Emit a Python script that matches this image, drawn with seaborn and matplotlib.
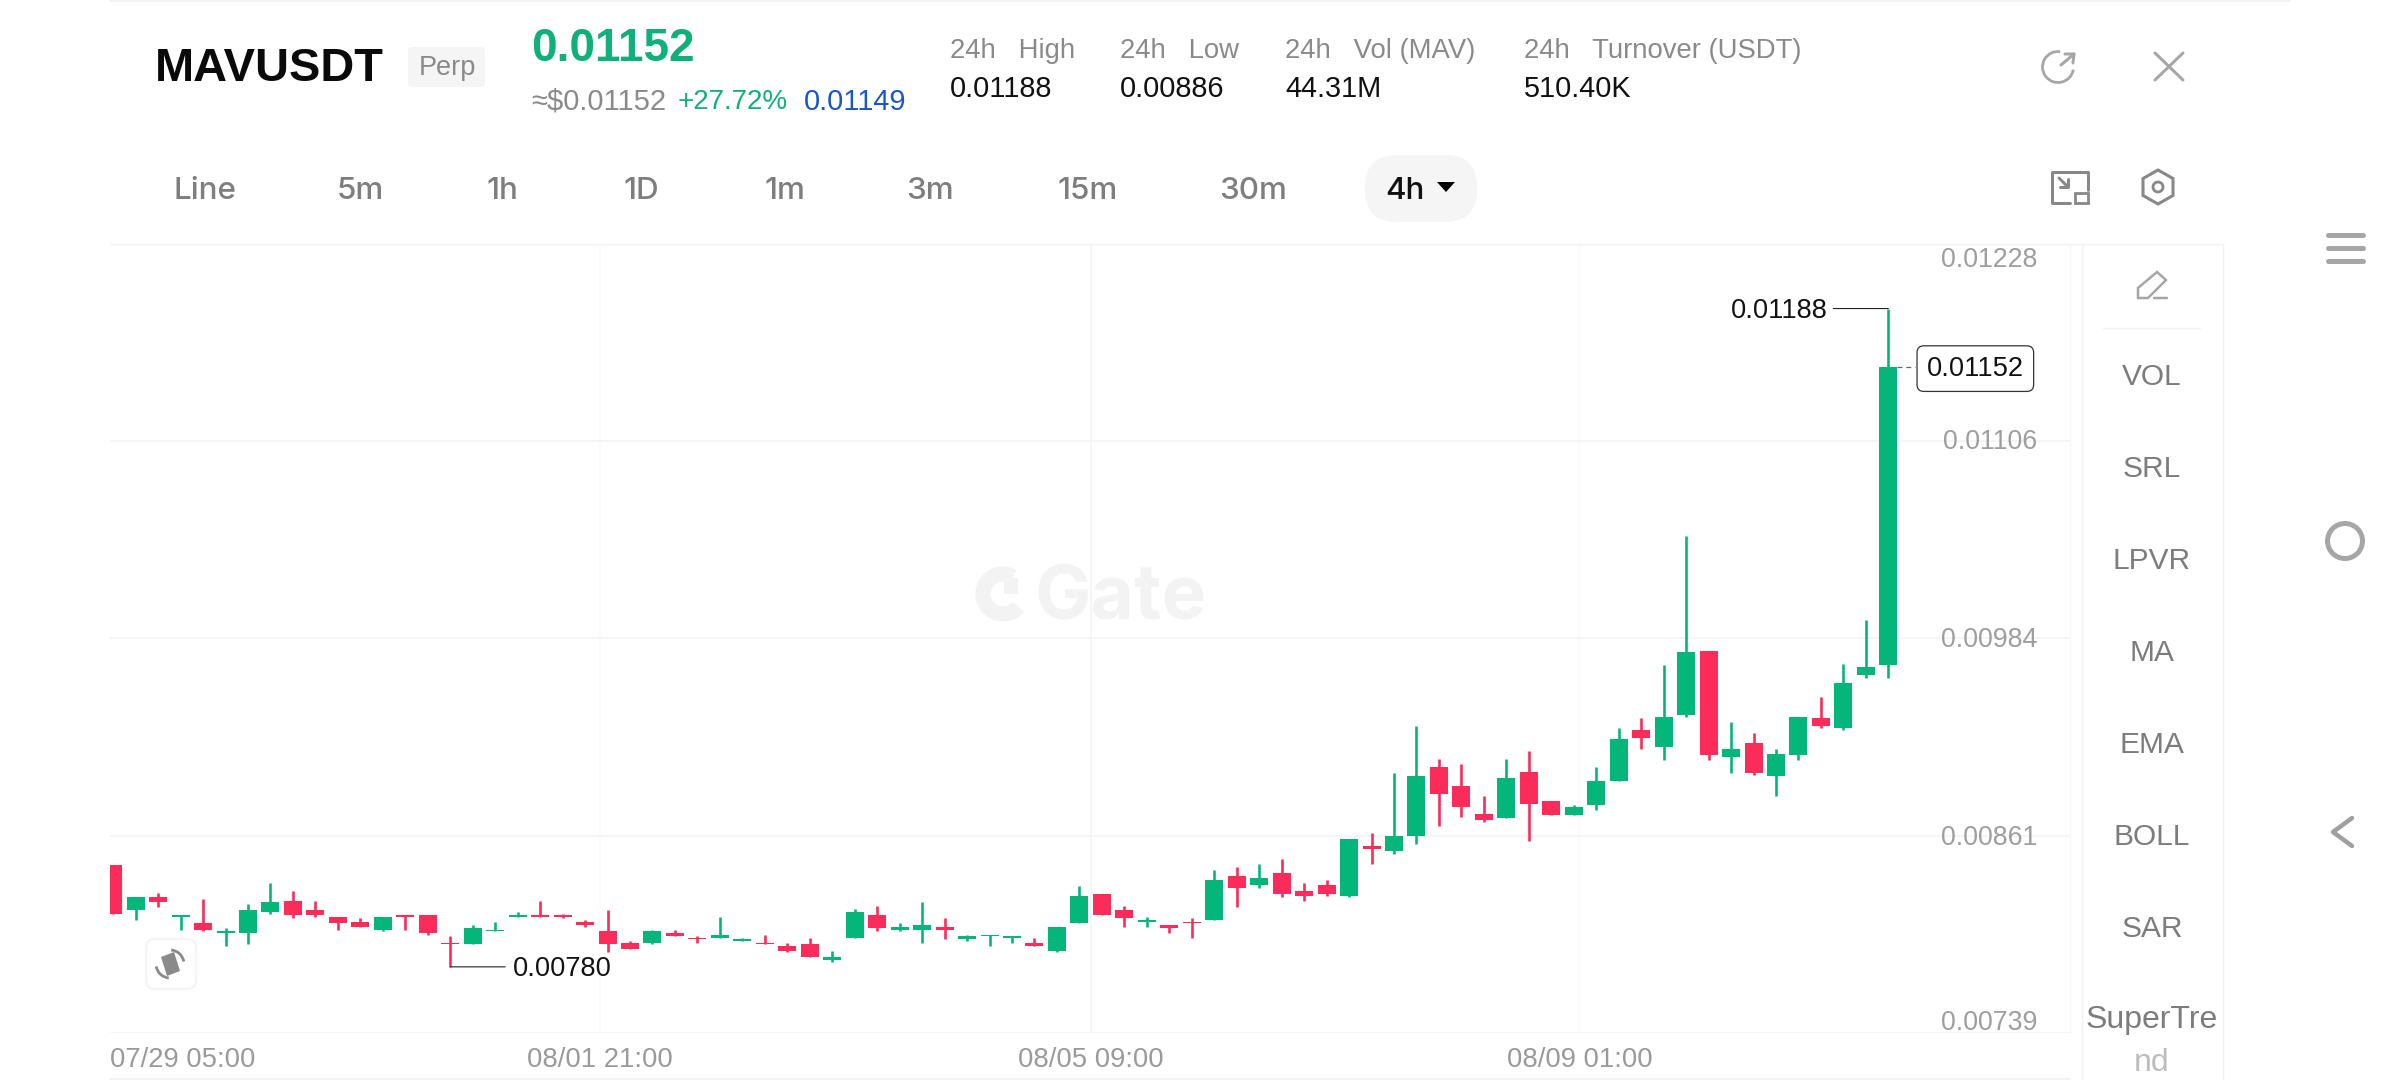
import numpy as np
import pandas as pd
import seaborn as sns
import matplotlib.pyplot as plt
from matplotlib.patches import Arc, Circle, FancyBboxPatch, Polygon, Rectangle

# candle data, 4h candles, oldest first
opens = [
    0.00843, 0.00815, 0.00823, 0.00811, 0.00807, 0.00801, 0.00801, 0.00814, 0.00821, 0.00815,
    0.00811, 0.00808, 0.00803, 0.00812, 0.00812, 0.00795, 0.00794, 0.00802, 0.00811, 0.00812,
    0.00812, 0.00808, 0.00802, 0.00795, 0.00795, 0.00801, 0.00798, 0.00798, 0.00796, 0.00795,
    0.00793, 0.00794, 0.00784, 0.00798, 0.00812, 0.00803, 0.00803, 0.00805, 0.00797, 0.00799,
    0.00798, 0.00795, 0.00790, 0.00807, 0.00825, 0.00815, 0.00808, 0.00806, 0.00808, 0.00809,
    0.00836, 0.00831, 0.00838, 0.00827, 0.00831, 0.00824, 0.00855, 0.00852, 0.00861, 0.00904,
    0.00892, 0.00875, 0.00872, 0.00901, 0.00883, 0.00874, 0.00880, 0.00895, 0.00927, 0.00916,
    0.00936, 0.00976, 0.00910, 0.00919, 0.00898, 0.00911, 0.00934, 0.00928, 0.00961, 0.00967,
]
highs = [
    0.00843, 0.00823, 0.00826, 0.00812, 0.00822, 0.00804, 0.00819, 0.00832, 0.00827, 0.00821,
    0.00811, 0.00810, 0.00811, 0.00812, 0.00812, 0.00799, 0.00806, 0.00808, 0.00814, 0.00821,
    0.00813, 0.00809, 0.00815, 0.00796, 0.00803, 0.00803, 0.00799, 0.00811, 0.00798, 0.00800,
    0.00795, 0.00798, 0.00790, 0.00816, 0.00818, 0.00807, 0.00820, 0.00810, 0.00800, 0.00800,
    0.00799, 0.00798, 0.00805, 0.00830, 0.00825, 0.00818, 0.00811, 0.00806, 0.00810, 0.00840,
    0.00842, 0.00844, 0.00847, 0.00832, 0.00834, 0.00859, 0.00863, 0.00900, 0.00929, 0.00909,
    0.00906, 0.00886, 0.00909, 0.00914, 0.00883, 0.00880, 0.00904, 0.00928, 0.00934, 0.00967,
    0.01047, 0.00976, 0.00932, 0.00925, 0.00915, 0.00935, 0.00947, 0.00968, 0.00995, 0.01188,
]
lows = [
    0.00813, 0.00809, 0.00817, 0.00803, 0.00802, 0.00793, 0.00794, 0.00813, 0.00810, 0.00811,
    0.00803, 0.00805, 0.00802, 0.00803, 0.00800, 0.00780, 0.00794, 0.00802, 0.00811, 0.00811,
    0.00810, 0.00805, 0.00789, 0.00791, 0.00794, 0.00799, 0.00795, 0.00798, 0.00796, 0.00794,
    0.00789, 0.00786, 0.00783, 0.00798, 0.00802, 0.00802, 0.00795, 0.00797, 0.00796, 0.00793,
    0.00795, 0.00793, 0.00789, 0.00807, 0.00812, 0.00805, 0.00805, 0.00801, 0.00798, 0.00809,
    0.00817, 0.00829, 0.00823, 0.00821, 0.00824, 0.00823, 0.00844, 0.00850, 0.00856, 0.00867,
    0.00873, 0.00870, 0.00872, 0.00858, 0.00874, 0.00874, 0.00877, 0.00895, 0.00915, 0.00908,
    0.00935, 0.00908, 0.00900, 0.00899, 0.00886, 0.00908, 0.00928, 0.00927, 0.00959, 0.00959,
]
closes = [
    0.00813, 0.00823, 0.00820, 0.00812, 0.00803, 0.00802, 0.00815, 0.00820, 0.00812, 0.00812,
    0.00807, 0.00805, 0.00811, 0.00811, 0.00801, 0.00794, 0.00804, 0.00803, 0.00812, 0.00811,
    0.00811, 0.00806, 0.00794, 0.00791, 0.00802, 0.00799, 0.00797, 0.00800, 0.00797, 0.00794,
    0.00790, 0.00786, 0.00786, 0.00814, 0.00804, 0.00805, 0.00806, 0.00803, 0.00799, 0.00800,
    0.00799, 0.00793, 0.00805, 0.00824, 0.00812, 0.00810, 0.00809, 0.00804, 0.00807, 0.00834,
    0.00829, 0.00835, 0.00825, 0.00824, 0.00825, 0.00859, 0.00853, 0.00861, 0.00898, 0.00887,
    0.00879, 0.00871, 0.00897, 0.00881, 0.00874, 0.00879, 0.00895, 0.00921, 0.00922, 0.00935,
    0.00975, 0.00911, 0.00915, 0.00900, 0.00912, 0.00935, 0.00929, 0.00956, 0.00966, 0.01152,
]

y_ticks = [0.01228, 0.01106, 0.00984, 0.00861, 0.00739]
y_labels = ["0.01228", "0.01106", "0.00984", "0.00861", "0.00739"]
x_labels = ["07/29 05:00", "08/01 21:00", "08/05 09:00", "08/09 01:00"]
tabs = ["Line", "5m", "1h", "1D", "1m", "3m", "15m", "30m", "4h"]
indicators = ["VOL", "SRL", "LPVR", "MA", "EMA", "BOLL", "SAR", "SuperTre"]
stat_names = ["24h   High", "24h   Low", "24h   Vol (MAV)", "24h   Turnover (USDT)"]
stat_values = ["0.01188", "0.00886", "44.31M", "510.40K"]

GREEN = "#05B67A"
RED = "#FC2C5A"
GREY = "#8A8A8A"
LIGHT = "#F3F3F3"

sns.set_theme(style="white")
plt.rcParams["font.family"] = ["Liberation Sans", "DejaVu Sans"]

W, H = 2400, 1080
fig = plt.figure(figsize=(W / 100, H / 100), dpi=100, facecolor="white")

# page furniture, drawn in pixel coordinates under the chart
ui = fig.add_axes([0, 0, 1, 1], zorder=0)
ui.set_xlim(0, W)
ui.set_ylim(H, 0)
ui.axis("off")


def txt(x, y, s, size, color, ha="left", weight="normal", family=None):
    kw = {"family": family} if family else {}
    # matplotlib centres on the line box, digits sit about 3px high
    ui.text(x, y + 3, s, fontsize=size, color=color, ha=ha, va="center", weight=weight, **kw)


def stroke(xs, ys, color="#A6A6A6", px=2.5, cap="round"):
    ui.plot(xs, ys, color=color, lw=px / 1.39, solid_capstyle=cap, solid_joinstyle="round")


# frame lines
stroke([110, 2290], [1, 1], LIGHT, 2)
stroke([110, 2223], [244, 244], LIGHT, 1.5)
stroke([110, 2070], [1079, 1079], LIGHT, 2)
stroke([2082, 2082], [244, 1080], LIGHT, 1.5)
stroke([2223, 2223], [244, 1080], LIGHT, 1.5)
stroke([2070, 2070], [244, 1033], "#F8F8F8", 1.5)
stroke([2103, 2200], [328, 328], LIGHT, 1.5)

# header
txt(155, 66, "MAVUSDT", 33.8, "#0A0A0A", weight="bold")
ui.add_patch(FancyBboxPatch((408, 47), 77, 40, boxstyle="round,pad=0,rounding_size=4", fc="#F5F5F5", ec="none"))
txt(447, 65, "Perp", 19.5, GREY, ha="center")
txt(531, 46, "0.01152", 33, "#10B07A", weight="bold")
txt(531, 99, "≈$0.01152", 21, GREY)
txt(678, 99, "+27.72%", 20, "#10B07A")
txt(804, 99, "0.01149", 20.8, "#1A56C8")
for x, name, val in zip([950, 1120, 1285, 1524], stat_names, stat_values):
    txt(x, 48, name, 19.8, GREY)
    txt(x, 86, val, 20.8, "#111111")

# header icons
ui.add_patch(Arc((2058, 67), 31, 31, theta1=10, theta2=278, color="#A6A6A6", lw=2.8 / 1.39))
stroke([2061, 2074], [65, 54], px=3)
stroke([2065, 2074, 2073], [54, 54, 63], px=3)
stroke([2155, 2183], [53, 80], px=3)
stroke([2155, 2183], [80, 53], px=3)

# interval tabs
ui.add_patch(FancyBboxPatch((1365, 155), 112, 67, boxstyle="round,pad=0,rounding_size=32", fc="#F5F5F5", ec="none"))
for x, tab in zip([205, 360, 502, 641, 785, 930, 1088, 1253, 1405], tabs):
    is_active = tab == "4h"
    txt(x, 188, tab, 22.6, "#111111" if is_active else "#7E7E7E", ha="center", weight=500, family="Inter")
ui.add_patch(Polygon([[1437, 182], [1455, 182], [1446, 192]], fc="black", ec="none"))

# layout and settings icons
stroke([2070, 2052, 2052, 2070], [203, 203, 172, 172], "#888888", 3)
stroke([2070, 2088, 2088], [172, 172, 190], "#888888", 3)
ui.add_patch(Rectangle((2075, 193), 13, 10, fc="none", ec="#888888", lw=2))
stroke([2059, 2068], [178, 187], "#888888", 3)
stroke([2060, 2068, 2068], [187, 187, 179], "#888888", 3)
ui.add_patch(Polygon([[2158, 170], [2173, 178.5], [2173, 195.5], [2158, 204], [2143, 195.5], [2143, 178.5]],
                     fc="none", ec="#888888", lw=2.2))
ui.add_patch(Circle((2158, 187), 5, fc="none", ec="#888888", lw=2))

# right-hand panel
ui.add_patch(Polygon([[2138, 288], [2157, 272], [2166, 280], [2148, 298], [2138, 298]],
                     fc="none", ec="#A6A6A6", lw=1.8))
stroke([2154, 2167], [298, 298])
for y, name in zip([374, 466, 558, 650, 742, 834, 926, 1017], indicators):
    size = 23 if name == "SuperTre" else 21.5
    txt(2152, y, name, size, "#7C7C7C", ha="center")
txt(2152, 1060, "nd", 23, "#BDBDBD", ha="center")

# phone navigation buttons
for y in [235, 248, 261]:
    stroke([2328, 2363], [y, y], "#A6A6A6", 5)
ui.add_patch(Circle((2345, 541), 17.5, fc="none", ec="#A6A6A6", lw=3.6))
stroke([2352, 2333, 2352], [818, 832, 846], "#A0A0A0", 4.5)

# watermark
ui.add_patch(Arc((1003, 594), 40, 40, theta1=40, theta2=300, color=LIGHT, lw=11))
ui.add_patch(Rectangle((1004, 578), 14, 16, fc=LIGHT, ec="none"))
txt(1034, 597, "Gate", 54, LIGHT, weight="bold", family="Inter")

# chart rotate button
ui.add_patch(FancyBboxPatch((146, 939), 50, 50, boxstyle="round,pad=0,rounding_size=9", fc="white", ec="#F5F5F5", lw=1.5))
ui.add_patch(Polygon([[161, 957], [174, 952], [180, 971], [167, 976]], fc="#8A8A8A", ec="none"))
ui.add_patch(Arc((170, 964), 28, 28, theta1=95, theta2=170, color="#8A8A8A", lw=2))
ui.add_patch(Arc((170, 964), 28, 28, theta1=275, theta2=350, color="#8A8A8A", lw=2))

# candles
n = len(opens)
candles = pd.DataFrame({"i": np.arange(n), "open": opens, "high": highs, "low": lows, "close": closes})
candles["side"] = np.where(candles["close"] >= candles["open"], "up", "down")
palette = {"up": GREEN, "down": RED}

wicks = candles.melt(id_vars=["i", "side"], value_vars=["high", "low"], value_name="price")
bodies = candles.melt(id_vars=["i", "side"], value_vars=["open", "close"], value_name="price")

left, right, top, bottom = 110, 2070, 244, 1033
chart = fig.add_axes([left / W, 1 - bottom / H, (right - left) / W, (bottom - top) / H], zorder=1)
chart.patch.set_alpha(0)

sns.lineplot(data=wicks, x="i", y="price", hue="side", units="i", estimator=None, palette=palette,
             linewidth=1.9, solid_capstyle="butt", legend=False, ax=chart)
sns.lineplot(data=bodies, x="i", y="price", hue="side", units="i", estimator=None, palette=palette,
             linewidth=13, solid_capstyle="butt", legend=False, ax=chart)

step = 22.47  # px between candles
chart.set_xlim((left - 113.2) / step, (right - 113.2) / step)
chart.set_ylim(y_ticks[-1], y_ticks[0])
chart.set_xlabel("")
chart.set_ylabel("")

chart.set_yticks(y_ticks)
chart.set_yticklabels([])
chart.set_xticks([21.66, 43.5, 65.25])
chart.set_xticklabels(x_labels[1:], fontsize=19.8, color="#9A9A9A")
chart.tick_params(axis="x", length=0, pad=10.3)
chart.tick_params(axis="y", length=0)
chart.grid(True, color=LIGHT, lw=1.1)
chart.set_axisbelow(True)
# the outer two time gridlines are much fainter than the middle one
chart.get_xgridlines()[0].set_color("#FBFBFB")
chart.get_xgridlines()[2].set_color("#F9F9F9")
sns.despine(ax=chart, left=True, bottom=True)
chart.spines["top"].set_visible(False)
chart.spines["right"].set_visible(False)

chart.annotate(x_labels[0], xy=(0, 0), xycoords="axes fraction", xytext=(0, -27), textcoords="offset pixels",
               fontsize=19.8, color="#9A9A9A", ha="left", va="center")

for val, lab, dy in zip(y_ticks, y_labels, [-16, -1, -2, -2, 10]):
    chart.annotate(lab, xy=(1, val), xycoords=("axes fraction", "data"), xytext=(-33, dy),
                   textcoords="offset pixels", fontsize=19.3, color="#9E9E9E", ha="right", va="center")

# high, low and last price call-outs
hi_i = int(np.argmax(highs))
lo_i = int(np.argmin(lows))
line_kw = dict(arrowstyle="-", color="#222222", lw=0.8, shrinkA=0, shrinkB=0)
chart.annotate("", xy=(hi_i, highs[hi_i]), xytext=(-55, 0), textcoords="offset pixels", arrowprops=line_kw)
chart.annotate("0.01188", xy=(hi_i, highs[hi_i]), xytext=(-61, -2), textcoords="offset pixels", fontsize=19.6,
               color="#111111", ha="right", va="center")
chart.annotate("", xy=(lo_i, lows[lo_i]), xytext=(55, 0), textcoords="offset pixels", arrowprops=line_kw)
chart.annotate("0.00780", xy=(lo_i, lows[lo_i]), xytext=(63, -2), textcoords="offset pixels", fontsize=19.6,
               color="#111111", ha="left", va="center")
chart.plot([n - 1 + 0.4, n - 1 + 1.2], [closes[-1], closes[-1]], color="#666666", lw=0.9, ls=(0, (4, 3)))
chart.annotate("0.01152", xy=(n - 1, closes[-1]), xytext=(87, -2), textcoords="offset pixels", fontsize=19.6,
               color="#111111", ha="center", va="center",
               bbox=dict(boxstyle="round,pad=0.36,rounding_size=0.25", fc="white", ec="#333333", lw=0.9))

fig.savefig("out.png", dpi=100, facecolor="white")
